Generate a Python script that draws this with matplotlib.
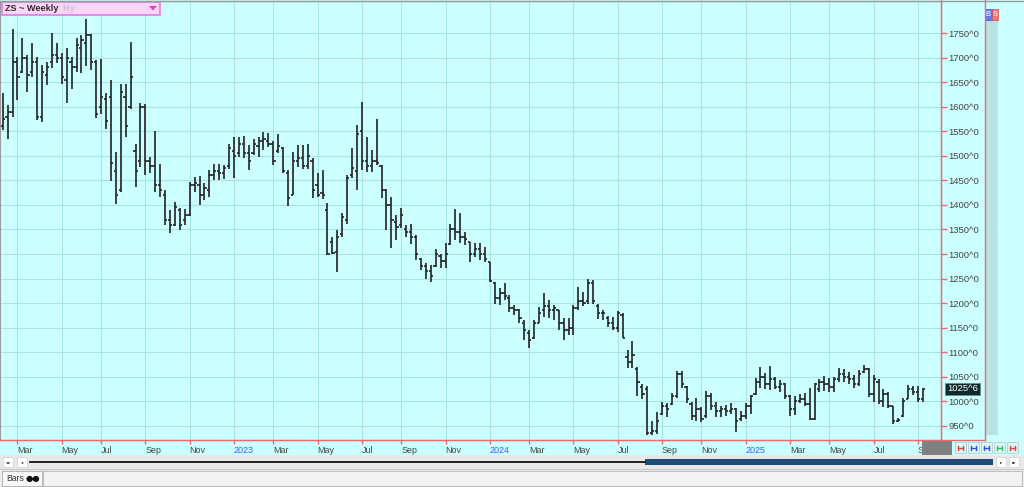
import numpy as np
import pandas as pd
import matplotlib
matplotlib.use("Agg")
import matplotlib.pyplot as plt
from matplotlib import transforms
from matplotlib.patches import Rectangle, Polygon

# ZS weekly bars (friday dates)
dates = pd.date_range("2022-02-11", periods=188, freq="7D")

highs = [1627, 1603, 1759, 1702, 1739, 1705, 1729, 1702, 1685, 1692,
         1751, 1729, 1709, 1719, 1702, 1739, 1746, 1778, 1749, 1695,
         1698, 1627, 1654, 1507, 1646, 1646, 1731, 1525, 1607, 1605,
         1498, 1551, 1483, 1430, 1389, 1406, 1393, 1391, 1447, 1457,
         1459, 1444, 1471, 1484, 1483, 1481, 1525, 1539, 1539, 1540,
         1522, 1535, 1539, 1548, 1546, 1530, 1544, 1518, 1471, 1508,
         1522, 1522, 1525, 1495, 1464, 1471, 1403, 1335, 1349, 1383,
         1461, 1515, 1563, 1610, 1539, 1512, 1574, 1481, 1432, 1417,
         1379, 1393, 1359, 1362, 1339, 1291, 1281, 1277, 1311, 1301,
         1323, 1362, 1392, 1383, 1345, 1325, 1322, 1322, 1315, 1284,
         1244, 1230, 1241, 1216, 1196, 1189, 1165, 1145, 1165, 1193,
         1220, 1206, 1196, 1186, 1169, 1169, 1196, 1233, 1223, 1250,
         1247, 1199, 1186, 1174, 1172, 1184, 1179, 1104, 1123, 1069,
         1035, 1031, 959, 979, 999, 996, 1016, 1062, 1062, 1031,
         999, 1006, 989, 1022, 1018, 999, 990, 992, 996, 986,
         981, 997, 1013, 1047, 1069, 1057, 1072, 1050, 1043, 1037,
         1013, 1010, 1015, 1018, 1028, 1038, 1045, 1052, 1047, 1049,
         1067, 1065, 1060, 1054, 1064, 1074, 1067, 1054, 1045, 1026,
         1020, 990, 967, 1006, 1033, 1031, 1031, 1028]

lows = [1552, 1535, 1579, 1613, 1668, 1630, 1661, 1573, 1569, 1644,
        1678, 1688, 1647, 1608, 1637, 1671, 1668, 1683, 1675, 1576,
        1586, 1554, 1448, 1401, 1427, 1539, 1596, 1437, 1478, 1461,
        1464, 1427, 1417, 1359, 1343, 1357, 1349, 1359, 1377, 1427,
        1400, 1411, 1417, 1450, 1450, 1452, 1474, 1454, 1498, 1495,
        1471, 1501, 1498, 1512, 1518, 1482, 1505, 1464, 1398, 1420,
        1478, 1474, 1474, 1414, 1417, 1413, 1299, 1300, 1264, 1335,
        1362, 1454, 1430, 1471, 1468, 1468, 1481, 1415, 1349, 1313,
        1328, 1352, 1335, 1320, 1288, 1267, 1250, 1243, 1274, 1271,
        1271, 1318, 1328, 1322, 1318, 1284, 1294, 1288, 1284, 1244,
        1199, 1196, 1206, 1182, 1176, 1159, 1125, 1108, 1126, 1159,
        1172, 1169, 1165, 1145, 1125, 1135, 1135, 1186, 1194, 1199,
        1199, 1167, 1165, 1152, 1145, 1142, 1128, 1067, 1067, 1011,
        1004, 931, 931, 933, 972, 969, 992, 1006, 1028, 997,
        962, 961, 957, 967, 982, 969, 969, 970, 975, 938,
        959, 965, 975, 1013, 1028, 1026, 1023, 1026, 1020, 1004,
        970, 972, 996, 990, 962, 963, 1020, 1022, 1020, 1020,
        1040, 1040, 1035, 1028, 1031, 1057, 1009, 999, 994, 989,
        986, 954, 957, 969, 1004, 1013, 999, 999]

opens = [1560, 1580, 1590, 1690, 1670, 1700, 1670, 1690, 1580, 1665,
         1690, 1705, 1700, 1655, 1690, 1680, 1720, 1730, 1745, 1690,
         1600, 1615, 1620, 1470, 1430, 1620, 1600, 1510, 1490, 1600,
         1490, 1480, 1440, 1420, 1370, 1360, 1390, 1370, 1380, 1440,
         1440, 1420, 1430, 1460, 1470, 1465, 1480, 1510, 1505, 1525,
         1505, 1505, 1520, 1530, 1530, 1525, 1510, 1515, 1465, 1420,
         1490, 1495, 1480, 1490, 1440, 1425, 1390, 1325, 1305, 1340,
         1370, 1460, 1470, 1550, 1490, 1480, 1490, 1480, 1430, 1400,
         1365, 1360, 1350, 1345, 1335, 1290, 1275, 1265, 1275, 1295,
         1285, 1320, 1350, 1345, 1335, 1325, 1300, 1310, 1300, 1284,
         1240, 1210, 1220, 1210, 1190, 1185, 1160, 1140, 1130, 1160,
         1185, 1195, 1185, 1185, 1160, 1145, 1150, 1190, 1205, 1205,
         1240, 1195, 1180, 1170, 1160, 1150, 1175, 1090, 1080, 1065,
         1030, 1025, 935, 940, 975, 990, 995, 1010, 1055, 1030,
         995, 970, 985, 970, 1010, 990, 980, 985, 980, 985,
         965, 970, 990, 1015, 1040, 1050, 1035, 1045, 1030, 1035,
         1010, 985, 1000, 1005, 995, 965, 1025, 1040, 1035, 1030,
         1045, 1055, 1050, 1045, 1035, 1060, 1065, 1015, 1040, 1000,
         1015, 990, 960, 970, 1005, 1025, 1020, 1005]

closes = [1575, 1590, 1690, 1660, 1700, 1665, 1690, 1578, 1670, 1680,
          1705, 1700, 1660, 1700, 1680, 1725, 1735, 1745, 1690, 1585,
          1620, 1570, 1485, 1420, 1630, 1560, 1660, 1470, 1600, 1490,
          1480, 1440, 1430, 1370, 1360, 1395, 1360, 1380, 1440, 1445,
          1420, 1435, 1460, 1470, 1465, 1475, 1515, 1500, 1525, 1505,
          1490, 1525, 1530, 1535, 1525, 1490, 1520, 1470, 1415, 1490,
          1495, 1480, 1500, 1430, 1420, 1420, 1300, 1302, 1335, 1375,
          1455, 1475, 1545, 1490, 1480, 1490, 1485, 1430, 1400, 1370,
          1355, 1380, 1345, 1335, 1300, 1275, 1265, 1255, 1300, 1285,
          1300, 1350, 1345, 1335, 1330, 1300, 1310, 1300, 1290, 1245,
          1210, 1220, 1215, 1190, 1185, 1170, 1145, 1125, 1160, 1180,
          1195, 1185, 1190, 1160, 1145, 1150, 1190, 1205, 1200, 1240,
          1205, 1180, 1180, 1160, 1150, 1180, 1130, 1080, 1095, 1040,
          1015, 935, 940, 960, 990, 985, 1010, 1055, 1035, 1005,
          970, 985, 965, 1010, 990, 980, 985, 980, 985, 960,
          970, 990, 1010, 1040, 1050, 1035, 1045, 1030, 1035, 1010,
          985, 1000, 1005, 995, 965, 1035, 1040, 1035, 1030, 1045,
          1055, 1050, 1045, 1035, 1055, 1065, 1015, 1045, 1000, 1015,
          990, 960, 962, 1000, 1025, 1020, 1005, 1025.75]

price_levels = list(range(950, 1751, 50))
month_names = {1: None, 3: "Mar", 5: "May", 7: "Jul", 9: "Sep", 11: "Nov"}

W, H = 1024, 487
RED = "#ee6a6a"
CYAN = "#ccffff"
BAR = "#222222"
plt.rcParams["font.family"] = ["Liberation Sans", "DejaVu Sans"]

fig = plt.figure(figsize=(W / 100, H / 100), dpi=100)

# background / chrome in pixel coordinates
bg = fig.add_axes([0, 0, 1, 1], zorder=0)
bg.set_xlim(0, W)
bg.set_ylim(H, 0)
bg.axis("off")
bg.add_patch(Rectangle((0, 0), W, 455, fc=CYAN, ec="none"))
bg.add_patch(Rectangle((985, 20), 13, 415, fc="#b9e2e2", ec="none"))
bg.add_patch(Rectangle((0, 455), W, 13, fc="#e8e8e8", ec="none"))
bg.add_patch(Rectangle((0, 468), W, 19, fc="#f0f0f0", ec="none"))

# main chart
x = np.arange(len(dates))
ax = fig.add_axes([0, (H - 440) / H, 941 / W, 439 / H], zorder=2)
ax.set_facecolor(CYAN)
ax.set_xlim(-0.55, 190.7)
ax.set_ylim(921.3, 1815.2)

ax.vlines(x, lows, highs, color=BAR, lw=1.2)
ax.hlines(opens, x - 0.45, x, color=BAR, lw=1.2)
ax.hlines(closes, x, x + 0.45, color=BAR, lw=1.2)

# month ticks from the bar dates
tick_pos, tick_lab, tick_col = [], [], []
for i in range(1, len(dates)):
    d, p = dates[i], dates[i - 1]
    if d.month != p.month and d.month in month_names:
        tick_pos.append(i)
        if d.month == 1:
            tick_lab.append(str(d.year))
            tick_col.append("#3d5cff")
        else:
            tick_lab.append(month_names[d.month])
            tick_col.append("#444444")

ax.set_xticks(tick_pos)
ax.set_xticklabels(tick_lab)
ax.tick_params(axis="x", colors=RED, length=3, width=1, pad=1.5, labelsize=6.4)
for lbl, c in zip(ax.get_xticklabels(), tick_col):
    lbl.set_color(c)
    lbl.set_ha("left")

ax.yaxis.tick_right()
ax.set_yticks(price_levels)
ax.set_yticklabels([f"{p}^0" for p in price_levels])
ax.tick_params(axis="y", colors=RED, labelcolor="#444444", length=4, width=1,
               pad=1.5, labelsize=6.8)
ax.grid(True, color="#a9e2e2", lw=0.8)
ax.set_axisbelow(True)

ax.spines["right"].set_color(RED)
ax.spines["bottom"].set_color(RED)
ax.spines["left"].set_color("#9a9a9a")
ax.spines["top"].set_color("#9a9a9a")

# last price label
last = closes[-1]
whole = int(last)
eighths = int(round((last - whole) * 8))
trans = transforms.blended_transform_factory(ax.transAxes, ax.transData)
ax.text(1.0065, last, f"{whole}^{eighths}", transform=trans, ha="left", va="center",
        color="white", fontsize=6.8, clip_on=False, zorder=10,
        bbox=dict(boxstyle="square,pad=0.18", fc="#0e2a2a", ec="#6a8a8a", lw=0.5))

# overlay chrome
fg = fig.add_axes([0, 0, 1, 1], zorder=5)
fg.set_xlim(0, W)
fg.set_ylim(H, 0)
fg.axis("off")
fg.patch.set_alpha(0)

fg.plot([0, 985], [440, 440], color=RED, lw=1)
fg.plot([940.5, 940.5], [0, 440], color=RED, lw=1)
fg.plot([984.5, 984.5], [0, 440], color=RED, lw=1)
fg.plot([0, W], [0.5, 0.5], color="#9a9a9a", lw=1)

# title box
fg.add_patch(Rectangle((2, 1.5), 158, 13.5, fc="#f8d6f8", ec="#e07ae0", lw=1.2))
fg.text(5, 8.5, "ZS ~ Weekly", fontsize=6.6, fontweight="bold", color="#3a2a2a",
        va="center", ha="left")
fg.text(62, 8.5, "kly", fontsize=6.6, fontweight="bold", color="#dcbcdc",
        va="center", ha="left")
fg.add_patch(Polygon([[149, 6], [157, 6], [153, 10.5]], closed=True, fc="#e040c0", ec="none"))

# B / S buttons
fg.add_patch(Rectangle((985, 8.5), 6.5, 11, fc="#6878f2", ec="#4050d0", lw=0.5))
fg.add_patch(Rectangle((991.5, 8.5), 6.5, 11, fc="#f07878", ec="#d05050", lw=0.5))
fg.text(988.3, 14, "B", fontsize=5.5, color="white", ha="center", va="center")
fg.text(994.8, 14, "S", fontsize=5.5, color="white", ha="center", va="center")

# bottom right cursor box and small buttons
fg.add_patch(Rectangle((922, 441), 30, 14, fc="#808080", ec="none"))
btn_cols = ["#e04040", "#3050e0", "#3050e0", "#30c060", "#e04040"]
for k, c in enumerate(btn_cols):
    bx = 955 + k * 13
    fg.add_patch(Rectangle((bx, 442), 11, 11, fc="#dff6f6", ec="#b0d0d0", lw=0.6))
    fg.plot([bx + 3, bx + 8], [447.5, 447.5], color=c, lw=1)
    fg.plot([bx + 3, bx + 3], [445.5, 449.5], color=c, lw=1)
    fg.plot([bx + 8, bx + 8], [445.5, 449.5], color=c, lw=1)

# scroll bar row
for bx, s in [(3, "\u25c2\u25c2"), (17, "\u25c2"), (996, "\u25b8"), (1009, "\u25b8\u25b8")]:
    fg.add_patch(Rectangle((bx, 457), 10, 9.5, fc="white", ec="#d0d0d0", lw=0.5))
    fg.text(bx + 5, 461.8, s, fontsize=3.2, ha="center", va="center", color="#222222",
            family="DejaVu Sans")
fg.plot([30, 645], [461.5, 461.5], color="#111111", lw=1.3)
fg.add_patch(Rectangle((645, 459), 348, 5.5, fc="#1f4b78", ec="none"))

# toolbar
fg.plot([0, W], [468.5, 468.5], color="#c8c8c8", lw=1)
fg.plot([0, W], [486.5, 486.5], color="#b0b0b0", lw=1)
fg.add_patch(Rectangle((43, 471), 979, 14.5, fc="#f3f3f3", ec="#c0c0c0", lw=0.8))
fg.add_patch(Rectangle((2, 471), 40, 15, fc="#f8f8f8", ec="#b8b8b8", lw=0.8))
fg.text(6, 478.5, "Bars", fontsize=6.2, color="#333333", va="center", ha="left")
fg.text(26, 478.5, "\u25cf\u25cf", fontsize=6, color="#111111", va="center", ha="left",
        family="DejaVu Sans")

fig.savefig("out.png", dpi=100)
